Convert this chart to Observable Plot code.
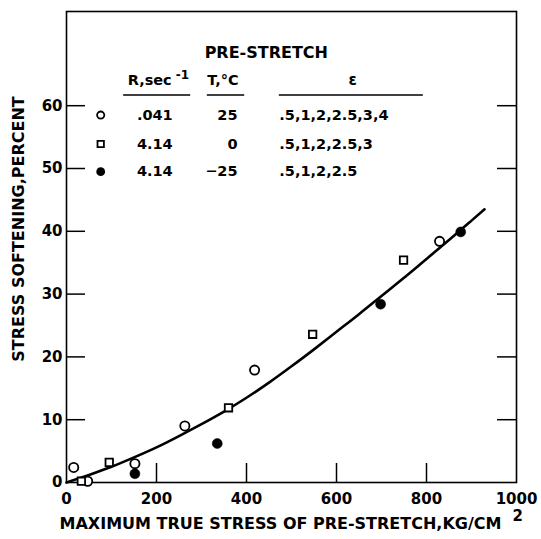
<!DOCTYPE html>
<html>
<head>
<meta charset="utf-8">
<script src="https://cdn.jsdelivr.net/npm/d3@7"></script>
<script src="https://cdn.jsdelivr.net/npm/@observablehq/plot@0.6"></script>
<style>
  body { margin: 0; background: #fff; }
  g[aria-label="strain-values"] text { letter-spacing: 2.5px; }
  g[aria-label="rate-values"] text { letter-spacing: 1px; }
</style>
</head>
<body>
<div id="chart"></div>
<script>
// Axis ticks
const xTickValues = [0, 200, 400, 600, 800, 1000];
const yTickValues = [0, 10, 20, 30, 40, 50, 60];
const xInnerTicks = [200, 400, 600, 800];
const yInnerTicks = [10, 20, 30, 40, 50, 60];

// Pre-stretch at R = .041 /sec, T = 25 C (open circles)
const circleStress = [16, 47, 152, 263, 418, 829];
const circleSoftening = [2.4, 0.2, 3.0, 9.0, 17.9, 38.4];

// Pre-stretch at R = 4.14 /sec, T = 0 C (open squares)
const squareStress = [33, 95, 360, 547, 749];
const squareSoftening = [0.2, 3.2, 11.9, 23.6, 35.4];

// Pre-stretch at R = 4.14 /sec, T = -25 C (filled circles)
const filledStress = [152, 335, 698, 876];
const filledSoftening = [1.4, 6.2, 28.4, 39.9];

// Fitted curve through all points
const curveStress = [0, 50, 100, 150, 200, 250, 300, 350, 400, 450, 500, 550, 600, 650, 700, 750, 800, 850, 900, 929];
const curveSoftening = [0, 1.2, 2.5, 4.0, 5.6, 7.4, 9.3, 11.3, 13.5, 15.9, 18.5, 21.2, 24.0, 26.8, 29.7, 32.6, 35.6, 38.6, 41.7, 43.5];

// Legend table
const legendTitle = "PRE-STRETCH";
const legendHeaders = ["R,sec", "-1", "T,°C", "ε"];
const legendRate = [".041", "4.14", "4.14"];
const legendTemp = ["25", "0", "−25"];
const legendStrain = [".5,1,2,2.5,3,4", ".5,1,2,2.5,3", ".5,1,2,2.5"];

const xTitle = "MAXIMUM TRUE STRESS OF PRE-STRETCH,KG/CM";
const xTitleSup = "2";
const yTitle = "STRESS SOFTENING,PERCENT";

const zip = (xs, ys) => xs.map((x, i) => ({x, y: ys[i]}));
const circles = zip(circleStress, circleSoftening);
const squares = zip(squareStress, squareSoftening);
const filled = zip(filledStress, filledSoftening);
const curve = zip(curveStress, curveSoftening);

// Legend layout, in chart units
const legendRowY = [58.5, 53.9, 49.5];
const legendMarkX = 76;
const legendHeaderY = 64.0;
const legendRuleY = 61.7;
const legendRules = [
  {x1: 127, x2: 276},
  {x1: 313, x2: 396},
  {x1: 473, x2: 793}
];
const rows = legendRate.map((rate, i) => ({
  rate, temp: legendTemp[i], strain: legendStrain[i], y: legendRowY[i]
}));

const FONT = "'DejaVu Sans', 'Liberation Sans', sans-serif";
const ink = "#000";

const chart = Plot.plot({
  width: 541,
  height: 539,
  marginLeft: 66,
  marginRight: 25,
  marginTop: 11,
  marginBottom: 57,
  x: {domain: [0, 1000]},
  y: {domain: [0, 75]},
  style: {fontFamily: FONT, fontWeight: "bold", background: "#fff", color: ink, overflow: "visible"},
  marks: [
    Plot.frame({stroke: ink, strokeWidth: 1.6}),
    // inward ticks on left, right and bottom edges
    Plot.tickY(yInnerTicks, {y: d => d, insetRight: 431, stroke: ink, strokeWidth: 1.5}),
    Plot.tickY(yInnerTicks, {y: d => d, insetLeft: 431, stroke: ink, strokeWidth: 1.5}),
    Plot.tickX(xInnerTicks, {x: d => d, insetTop: 452, stroke: ink, strokeWidth: 1.5}),
    Plot.axisX({ticks: xTickValues, tickSize: 0, tickPadding: 11, fontSize: 15, fontWeight: "bold", tickFormat: d => String(d), label: null}),
    Plot.axisY({ticks: yTickValues, tickSize: 0, tickPadding: 4, fontSize: 15, fontWeight: "bold", label: null}),

    // axis titles
    Plot.text([xTitle], {frameAnchor: "bottom", textAnchor: "middle", dx: -11, dy: 46, fontSize: 16, fontWeight: "bold", fill: ink}),
    Plot.text([xTitleSup], {frameAnchor: "bottom-right", dx: -4, dy: 38, textAnchor: "start", fontSize: 15, fontWeight: "bold", fill: ink}),
    Plot.text([yTitle], {frameAnchor: "left", textAnchor: "middle", dx: -48, dy: -18, rotate: -90, fontSize: 16, fontWeight: "bold", fill: ink}),

    // fitted curve
    Plot.line(curve, {x: "x", y: "y", curve: "natural", stroke: ink, strokeWidth: 2.6}),

    // data points
    Plot.dot(circles, {x: "x", y: "y", r: 4.6, stroke: ink, strokeWidth: 1.8, fill: "#fff"}),
    Plot.dot(squares, {x: "x", y: "y", symbol: "square", r: 4.2, stroke: ink, strokeWidth: 1.8, fill: "#fff"}),
    Plot.dot(filled, {x: "x", y: "y", r: 5, fill: ink, stroke: ink, strokeWidth: 0.5}),

    // legend table
    Plot.text([legendTitle], {x: 444, y: 68.4, fontSize: 16, fontWeight: "bold", fill: ink}),
    Plot.text([legendHeaders[0]], {x: 136, y: legendHeaderY, textAnchor: "start", fontSize: 14.5, fontWeight: "bold", fill: ink}),
    Plot.text([legendHeaders[1]], {x: 243, y: 64.9, textAnchor: "start", fontSize: 12, fontWeight: "bold", fill: ink}),
    Plot.text([legendHeaders[2]], {x: 313, y: legendHeaderY, textAnchor: "start", fontSize: 14.5, fontWeight: "bold", fill: ink}),
    Plot.text([legendHeaders[3]], {x: 636, y: legendHeaderY, fontSize: 15, fontWeight: "bold", fill: ink}),
    Plot.ruleY(legendRules, {y: legendRuleY, x1: "x1", x2: "x2", stroke: ink, strokeWidth: 1.5}),

    Plot.dot([rows[0]], {x: legendMarkX, y: "y", r: 3.6, stroke: ink, strokeWidth: 1.8, fill: "#fff"}),
    Plot.dot([rows[1]], {x: legendMarkX, y: "y", symbol: "square", r: 3.6, stroke: ink, strokeWidth: 1.8, fill: "#fff"}),
    Plot.dot([rows[2]], {x: legendMarkX, y: "y", r: 4.4, fill: ink}),

    Plot.text(rows, {x: 236, y: "y", text: "rate", textAnchor: "end", fontSize: 14.5, fontWeight: "bold", fill: ink, ariaLabel: "rate-values"}),
    Plot.text(rows, {x: 380, y: "y", text: "temp", textAnchor: "end", fontSize: 14.5, fontWeight: "bold", fill: ink}),
    Plot.text(rows, {x: 473, y: "y", text: "strain", textAnchor: "start", fontSize: 14.5, fontWeight: "bold", fill: ink, ariaLabel: "strain-values"})
  ]
});

document.getElementById("chart").appendChild(chart);
</script>
</body>
</html>
